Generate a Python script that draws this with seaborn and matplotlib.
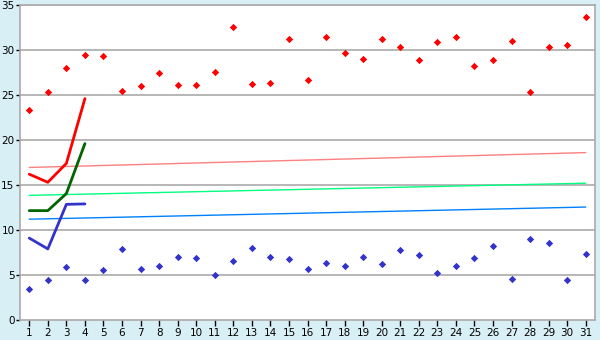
import matplotlib
matplotlib.use("Agg")
import matplotlib.pyplot as plt
import seaborn as sns
import pandas as pd
import numpy as np

days = list(range(1, 32))
high_pts = [23.3, 25.3, 28.0, 29.5, 29.3, 25.4, 26.0, 27.4, 26.1, 26.1,
            27.6, 32.6, 26.2, 26.3, 31.2, 26.7, 31.4, 29.7, 29.0, 31.2,
            30.3, 28.85, 30.85, 31.4, 28.2, 28.85, 30.95, 25.3, 30.3, 30.6, 33.7]
low_pts = [3.4, 4.4, 5.85, 4.5, 5.6, 7.85, 5.7, 5.95, 6.95, 6.85,
           5.05, 6.6, 7.95, 6.95, 6.75, 5.7, 6.3, 6.05, 7.05, 6.2,
           7.75, 7.2, 5.2, 6.05, 6.85, 8.2, 4.6, 8.95, 8.6, 4.4, 7.3]
line_days = [1, 2, 3, 4]
red_line = [16.2, 15.3, 17.4, 24.6]
green_line = [12.15, 12.15, 14.05, 19.6]
blue_line = [9.1, 7.9, 12.85, 12.9]
trend_days = [1, 31]
red_trend = [16.95, 18.6]
green_trend = [13.85, 15.2]
blue_trend = [11.2, 12.55]
yticks = [0, 5, 10, 15, 20, 25, 30, 35]

sns.set_theme(style="white")
plt.rcParams['font.family'] = ['DejaVu Sans']

fig = plt.figure(figsize=(6, 3.4), dpi=100, facecolor="#d9eff6")
ax = fig.add_axes([20/600, 20/340, 575/600, 315/340])
ax.set_facecolor("white")

for y in yticks[1:]:
    ax.axhline(y, color="#aaaaaa", lw=1.2, zorder=0)

pts = pd.DataFrame({"day": days, "high": high_pts, "low": low_pts})
lines = pd.DataFrame({"day": line_days, "red": red_line, "green": green_line, "blue": blue_line})
trend = pd.DataFrame({"day": trend_days, "red": red_trend, "green": green_trend, "blue": blue_trend})

sns.lineplot(data=trend, x="day", y="red", color="#ff8080", lw=1.0, ax=ax)
sns.lineplot(data=trend, x="day", y="green", color="#00ff80", lw=1.0, ax=ax)
sns.lineplot(data=trend, x="day", y="blue", color="#0080ff", lw=1.0, ax=ax)
sns.lineplot(data=lines, x="day", y="red", color="#ff0000", lw=2, ax=ax)
sns.lineplot(data=lines, x="day", y="green", color="#006400", lw=2, ax=ax)
sns.lineplot(data=lines, x="day", y="blue", color="#3333cc", lw=2, ax=ax)
sns.scatterplot(data=pts, x="day", y="high", color="#ff0000", marker="D", s=14, linewidth=0, ax=ax)
sns.scatterplot(data=pts, x="day", y="low", color="#3333cc", marker="D", s=14, linewidth=0, ax=ax)

ax.set_xlim(0.5, 31.5)
ax.set_ylim(0, 35)
ax.set_xticks(days)
ax.set_yticks(yticks)
ax.set_xlabel("")
ax.set_ylabel("")
for s in ax.spines.values():
    s.set_color("#aaaaaa")
    s.set_linewidth(1.2)
ax.tick_params(axis="x", direction="out", length=4, width=1, color="black",
               labelsize=7.5, pad=2, bottom=True)
ax.tick_params(axis="y", direction="out", length=3, width=1, color="black",
               labelsize=7.5, pad=1, left=True)
for lbl in ax.get_xticklabels() + ax.get_yticklabels():
    lbl.set_color("black")

fig.savefig("out.png", dpi=100, facecolor=fig.get_facecolor())
